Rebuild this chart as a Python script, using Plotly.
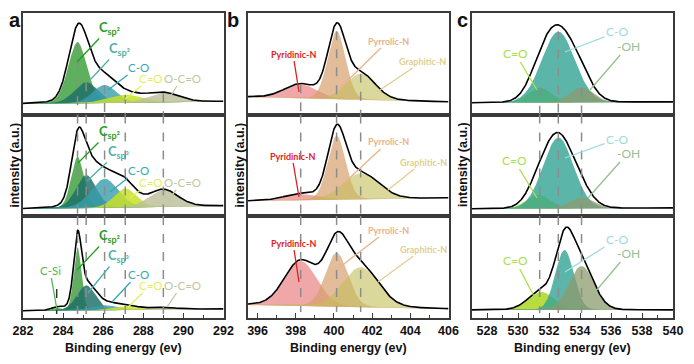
import numpy as np
import plotly.graph_objects as go

W, H = 694, 364          # browser window
OFF = 8                  # default page margin around the figure div
FW, FH = W - OFF, H - OFF

# ---------------- data ----------------
# Panel a : C 1s
A_NAMES = ["C-Si", "C<sub>sp²</sub>", "C<sub>sp³</sub>", "C-O", "C=O", "O-C=O"]
A_CENTERS = [283.68, 284.72, 285.15, 286.07, 287.10, 289.00]
A_HEIGHTS = [[0, 61, 21, 18, 8, 9],
             [0, 51, 33, 29, 19, 17],
             [3, 63, 25, 5, 4, 2]]
A_FWHM = [[0.6, 1.1, 1.4, 1.4, 2.0, 1.8],
          [0.6, 0.75, 1.2, 1.6, 1.3, 1.7],
          [0.6, 0.45, 1.1, 1.5, 1.5, 1.5]]
A_BG = [(0, 2.5), (0, 3), (0, 2)]
A_XRANGE = [282, 292]
A_TICK0 = 282

# Panel b : N 1s
B_NAMES = ["Pyridinic-N", "Pyrrolic-N", "Graphitic-N"]
B_CENTERS = [398.26, 400.14, 401.40]
B_HEIGHTS = [[14, 68, 26],
             [6, 64, 26],
             [45, 54, 40]]
B_FWHM = [[2.0, 1.1, 1.8],
          [2.0, 1.1, 2.2],
          [2.0, 1.4, 2.2]]
B_BG = [(5, 0), (0, 3), (4, 0)]
B_XRANGE = [395.5, 406]
B_TICK0 = 396

# Panel c : O 1s
C_NAMES = ["C=O", "C-O", "-OH"]
C_CENTERS = [[531.4, 532.6, 534.1],
             [531.3, 532.6, 534.1],
             [531.5, 533.0, 534.1]]
C_HEIGHTS = [[15, 71, 15],
             [14, 71, 11],
             [18, 60, 44]]
C_FWHM = [[1.8, 2.5, 1.8],
          [1.8, 2.3, 1.8],
          [2.0, 1.4, 1.9]]
C_BG = [(0, 1), (0, 1), (0, 0)]
C_XRANGE = [527, 540]
C_TICK0 = 528

CSI_DASH_X = 283.68
X_TITLE = "Binding energy (ev)"
Y_TITLE = "intensity (a.u.)"
PANEL_LETTERS = ["a", "b", "c"]

# ---------------- style ----------------
A_FILL = ["rgba(80,180,80,0.85)", "rgba(66,162,66,0.85)", "rgba(28,110,104,0.82)",
          "rgba(55,158,172,0.8)", "rgba(200,225,40,0.85)", "rgba(185,190,150,0.8)"]
A_TEXT = ["#55b555", "#1f9e1f", "#4fb0a8", "#35a8b5", "#e2f05a", "#c2c6a0"]
B_FILL = ["rgba(225,95,95,0.55)", "rgba(215,160,110,0.7)", "rgba(195,190,90,0.6)"]
B_TEXT = ["#e01e1e", "#e8b48c", "#e0cf90"]
C_FILL = ["rgba(170,215,30,0.85)", "rgba(55,165,150,0.82)", "rgba(140,155,110,0.75)"]
C_TEXT = ["#a8e04a", "#a0dcd8", "#98c090"]
ETA = [0.15, 0.1, 0.05]

COL_X = [(23, 223.5), (248, 448.5), (471.5, 673)]
ROW_Y = [(13, 114.5), (114.5, 216), (216, 318)]
BASE = [[104, 209, 311], [102, 201, 309], [103, 209, 310]]


def px2x(px):
    return (px - OFF) / FW


def py2y(py):
    return 1 - (py - OFF) / FH


def peak(x, c, h, fwhm, eta):
    s = fwhm / 2.3548
    g = np.exp(-0.5 * ((x - c) / s) ** 2)
    lo = 1.0 / (1.0 + ((x - c) / (fwhm / 2.0)) ** 2)
    return h * ((1 - eta) * g + eta * lo)


panels = [
    dict(xr=A_XRANGE, tick0=A_TICK0, centers=[A_CENTERS] * 3, heights=A_HEIGHTS,
         fwhm=A_FWHM, bg=A_BG, fill=A_FILL),
    dict(xr=B_XRANGE, tick0=B_TICK0, centers=[B_CENTERS] * 3, heights=B_HEIGHTS,
         fwhm=B_FWHM, bg=B_BG, fill=B_FILL),
    dict(xr=C_XRANGE, tick0=C_TICK0, centers=C_CENTERS, heights=C_HEIGHTS,
         fwhm=C_FWHM, bg=C_BG, fill=C_FILL),
]

fig = go.Figure()
shapes = []


def names(k):
    s = "" if k == 1 else str(k)
    return "x" + s, "y" + s, "xaxis" + s, "yaxis" + s


for col, p in enumerate(panels):
    x = np.linspace(p["xr"][0], p["xr"][1], 700)
    for row in range(3):
        k = row * 3 + col + 1
        xa, ya, xk, yk = names(k)
        top, bot = ROW_Y[row]
        base = BASE[col][row]
        ymin, ymax = -(bot - base), base - top
        bl, br = p["bg"][row]
        bg = bl + (br - bl) * (x - x[0]) / (x[-1] - x[0])
        total = bg.copy()
        for j, (c, h, w) in enumerate(zip(p["centers"][row], p["heights"][row], p["fwhm"][row])):
            if h <= 0:
                continue
            yj = peak(x, c, h, w, ETA[col])
            total = total + yj
            fig.add_trace(go.Scatter(
                x=np.concatenate([x, x[::-1]]), y=np.concatenate([bg + yj, bg[::-1]]),
                fill="toself", fillcolor=p["fill"][j], line=dict(width=0), mode="lines",
                xaxis=xa, yaxis=ya, showlegend=False, hoverinfo="skip"))
        fig.add_trace(go.Scatter(x=x, y=total, mode="lines",
                                 line=dict(color="black", width=1.6),
                                 xaxis=xa, yaxis=ya, showlegend=False, hoverinfo="skip"))

        bottom = row == 2
        xax = dict(domain=[px2x(COL_X[col][0]), px2x(COL_X[col][1])], range=p["xr"], anchor=ya,
                   showline=True, mirror=True, linecolor="#3a3a3a", linewidth=1.5,
                   showgrid=False, zeroline=False, showticklabels=bottom, automargin=False,
                   ticks="inside" if bottom else "", ticklen=5, tickwidth=1.3, tickcolor="#3a3a3a",
                   tick0=p["tick0"], dtick=2,
                   tickfont=dict(family="Liberation Sans, Arial", size=12.5, color="#111", weight="bold"))
        if bottom:
            xax["minor"] = dict(ticks="inside", ticklen=3, tickwidth=1.2, tickcolor="#3a3a3a",
                                tick0=p["tick0"], dtick=1, showgrid=False)
        yax = dict(domain=[py2y(bot), py2y(top)], range=[ymin, ymax], anchor=xa,
                   showline=True, mirror=True, linecolor="#3a3a3a", linewidth=1.5, automargin=False,
                   showgrid=False, zeroline=False, showticklabels=False, ticks="")
        fig.layout[xk] = xax
        fig.layout[yk] = yax

        # dashed guide lines through the peak positions of the first row
        for j, (c, h) in enumerate(zip(p["centers"][0], p["heights"][0])):
            if h <= 0:
                continue
            b0l, b0r = p["bg"][0]
            if row == 0:
                bgc = b0l + (b0r - b0l) * (c - p["xr"][0]) / (p["xr"][1] - p["xr"][0])
                y0, y1 = h + bgc, ymin
            elif row == 1:
                y0, y1 = ymax, ymin
            else:
                y0, y1 = ymax, -3
            shapes.append(dict(type="line", xref=xa, yref=ya, x0=c, x1=c, y0=y0, y1=y1,
                               line=dict(color="#8c8c8c", width=1.5, dash="dash"), layer="above"))
        if col == 0 and row == 2:
            shapes.append(dict(type="line", xref=xa, yref=ya, x0=CSI_DASH_X, x1=CSI_DASH_X,
                               y0=22, y1=-3, line=dict(color="#333", width=1.5, dash="dash"),
                               layer="above"))

ann = []


def label(text, tx, ty, hx, hy, color, size, bold=False, family="Lato"):
    ann.append(dict(text=text, xref="paper", yref="paper", x=px2x(hx), y=py2y(hy),
                    ax=tx - hx, ay=ty - hy, axref="pixel", ayref="pixel",
                    xanchor="center", yanchor="middle",
                    showarrow=True, arrowhead=0, arrowwidth=1.3, arrowcolor=color, standoff=0,
                    font=dict(family=family, size=size, color=color,
                              weight="bold" if bold else "normal")))


# panel a labels : (name index, text pos, head pos) per row
A_LAB = [
    [(1, 109, 28, 77, 62), (2, 119, 49, 90, 80), (3, 138, 67, 108, 90),
     (4, 151, 78, 125, 99), (5, 182, 78, 170, 97)],
    [(1, 109, 132, 78, 163), (2, 118, 152, 87, 181), (3, 138, 170, 110, 192),
     (4, 151, 182, 130, 198), (5, 182, 182, 167, 202)],
    [(1, 109, 236, 77, 270), (2, 118, 256, 88, 293), (3, 138, 274, 112, 302),
     (4, 151, 285, 128, 307), (5, 182, 285, 167, 307), (0, 50, 270, 57, 310)],
]
for rowlab in A_LAB:
    for j, tx, ty, hx, hy in rowlab:
        big = j in (1, 2)
        label(A_NAMES[j], tx, ty, hx, hy, A_TEXT[j], 13 if big else 11.5, bold=big)

B_LAB = [
    [(0, 293, 54, 299, 92), (1, 388, 41, 338, 90), (2, 423, 61, 377, 92)],
    [(0, 292, 156, 299, 197), (1, 388, 142, 340, 187), (2, 423, 162, 388, 190)],
    [(0, 293, 243, 299, 282), (1, 388, 230, 340, 267), (2, 423, 249, 378, 282)],
]
for rowlab in B_LAB:
    for j, tx, ty, hx, hy in rowlab:
        label(B_NAMES[j], tx, ty, hx, hy, B_TEXT[j], 9, bold=True)

C_LAB = [
    [(0, 515, 53, 537, 90), (1, 617, 32, 565, 52), (2, 628, 46, 590, 90)],
    [(0, 514, 160, 537, 198), (1, 617, 139, 565, 158), (2, 628, 153, 588, 198)],
    [(0, 515, 260, 537, 302), (1, 617, 239, 565, 272), (2, 628, 253, 590, 298)],
]
for rowlab in C_LAB:
    for j, tx, ty, hx, hy in rowlab:
        label(C_NAMES[j], tx, ty, hx, hy, C_TEXT[j], 12)

tfont = dict(family="Liberation Sans, Arial", size=12.5, color="#111", weight="bold")
for col in range(3):
    cx = (COL_X[col][0] + COL_X[col][1]) / 2
    ann.append(dict(text=X_TITLE, xref="paper", yref="paper", x=px2x(cx), y=py2y(348),
                    xanchor="center", yanchor="middle", showarrow=False, font=tfont))
    ann.append(dict(text=Y_TITLE, xref="paper", yref="paper", x=px2x(COL_X[col][0] - 8.5),
                    y=py2y(165), xanchor="center", yanchor="middle",
                    showarrow=False, textangle=-90, font=tfont))
for txt, px, py in zip(PANEL_LETTERS, [15, 233, 462], [20, 20, 20]):
    ann.append(dict(text=txt, xref="paper", yref="paper", x=px2x(px), y=py2y(py),
                    xanchor="center", yanchor="middle", showarrow=False,
                    font=dict(family="Liberation Sans, Arial", size=20, color="#111", weight="bold")))

fig.update_layout(width=FW, height=FH, margin=dict(l=0, r=0, t=0, b=0, pad=0, autoexpand=False),
                  paper_bgcolor="white", plot_bgcolor="white",
                  shapes=shapes, annotations=ann, showlegend=False)
fig.write_html("out.html")
